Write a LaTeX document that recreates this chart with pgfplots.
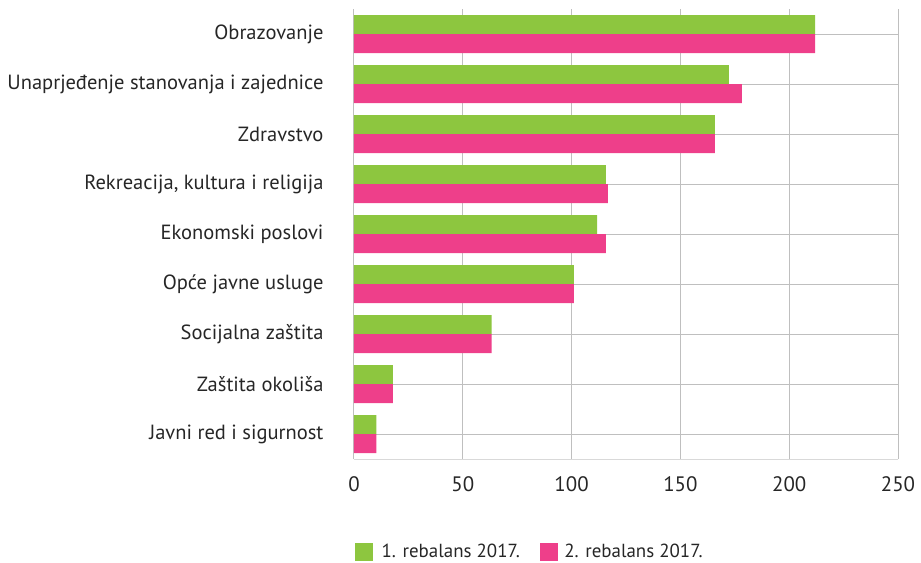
\documentclass[border=0pt]{standalone}
\usepackage{pgfplots}
\pgfplotsset{compat=1.18}
\usepackage{fontspec}
\setmainfont{PT Sans}
\definecolor{gr}{HTML}{8DC63F}
\definecolor{pk}{HTML}{EE3F8A}
\definecolor{txt}{HTML}{262626}
\definecolor{grid}{HTML}{D9D9D9}
\begin{document}
\begin{tikzpicture}
\path[use as bounding box] (-354bp,-104bp) rectangle (567bp,459bp);
\begin{axis}[
  at={(0,0)}, anchor=south west,
  scale only axis, width=544bp, height=450bp,
  xbar, bar width=0.38,
  xmin=0, xmax=250, ymin=-0.5, ymax=8.5,
  xtick={0,50,...,250},
  ytick={0,...,8},
  yticklabels={Javni red i sigurnost, Zaštita okoliša, Socijalna zaštita, Opće javne usluge, Ekonomski poslovi, {Rekreacija, kultura i religija}, Zdravstvo, Unaprjeđenje stanovanja i zajednice, Obrazovanje},
  axis line style={draw=none},
  axis x line*=bottom,
  x axis line style={draw=grid, line width=1pt},
  major tick length=0pt,
  xmajorgrids, grid style={grid, line width=1pt},
  xticklabel style={font=\fontsize{21}{24}\selectfont, text=txt, yshift=-14bp},
  yticklabel style={font=\fontsize{20.6}{24}\selectfont, text=txt, xshift=-27bp},
  /pgf/number format/assume math mode=true,
  legend columns=2,
  legend style={at={(-2bp,-93bp)}, anchor=west, draw=none, fill=none,
    font=\fontsize{19}{22}\selectfont, text=txt,
    /tikz/every even column/.style={column sep=18bp}},
]
\addplot[fill=gr, draw=none, bar shift=0.19, forget plot] coordinates {
(10.3,0) (17.9,1) (63.2,2) (101.1,3) (111.7,4) (115.8,5) (165.9,6) (172.3,7) (211.9,8)};
\addplot[fill=pk, draw=none, bar shift=-0.19, forget plot] coordinates {
(10.3,0) (17.9,1) (63.2,2) (101.1,3) (115.8,4) (116.7,5) (165.9,6) (178.3,7) (211.9,8)};
\addlegendimage{legend image code/.code={\fill[gr] (0bp,-8.5bp) rectangle (17bp,8.5bp); \path (24bp,0);}}
\addlegendentry{1. rebalans 2017.}
\addlegendimage{legend image code/.code={\fill[pk] (0bp,-8.5bp) rectangle (17bp,8.5bp); \path (22bp,0);}}
\addlegendentry{2. rebalans 2017.}
\end{axis}
\end{tikzpicture}
\end{document}
